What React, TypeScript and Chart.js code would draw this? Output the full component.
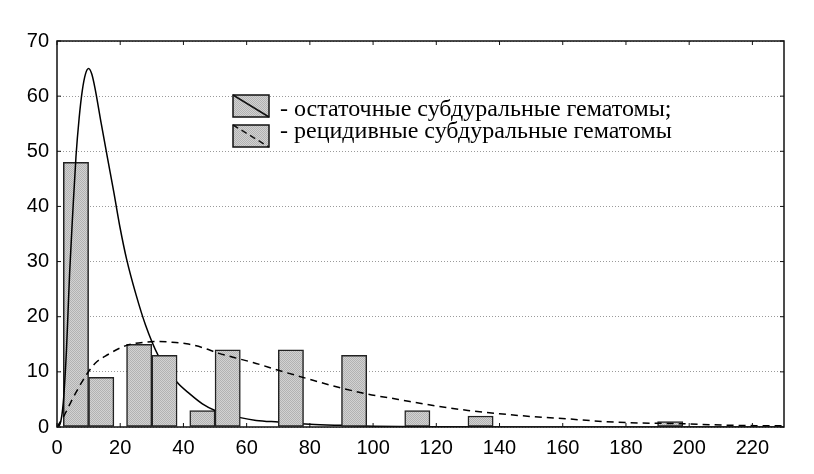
import React, { useEffect, useRef } from 'react';
import { Chart, ChartConfiguration, Plugin, registerables } from 'chart.js';

Chart.register(...registerables);

// histogram bins (width 20), two bars per bin
const binStarts = [0, 20, 40, 60, 80, 100, 120, 140, 160, 180, 200];
const residualCounts = [48, 15, 3, 0, 0, 0, 0, 0, 0, 0, 0];
const recurrentCounts = [9, 13, 14, 14, 13, 3, 2, 0, 0, 1, 0];

// fitted density curves
const residualFitX = [0, 1, 2, 3, 3.5, 4, 5, 6, 7, 8, 9, 10, 11, 12, 14, 16, 18, 20, 22, 25, 28, 32, 38, 42, 46, 50, 58, 63, 70, 80, 90, 100, 120, 150, 230];
const residualFitY = [0, 0.6, 4.5, 14, 21, 28, 39, 49, 56, 61, 64, 65, 64, 61.5, 55, 48.7, 42.5, 36, 30.5, 24, 18.5, 13, 8.1, 6, 4.2, 3, 1.7, 1.2, 0.9, 0.5, 0.3, 0.15, 0.05, 0, 0];

const recurrentFitX = [0, 2, 5, 9, 12, 16, 22, 28, 32, 36, 41, 46, 51, 56, 62, 70, 79, 89, 98, 108, 119, 130, 140, 150, 161, 170, 180, 197, 214, 230];
const recurrentFitY = [0, 1.8, 5.2, 9.2, 11.5, 13.1, 14.8, 15.4, 15.5, 15.4, 15.1, 14.4, 13.4, 12.6, 11.7, 10.3, 8.8, 7.2, 6.0, 5.0, 3.9, 3.0, 2.4, 1.9, 1.5, 1.1, 0.8, 0.6, 0.3, 0.2];

const legendLabels = [
  '- остаточные субдуральные гематомы;',
  '- рецидивные субдуральные гематомы',
];

const tickFont = { family: '"Liberation Sans", Arial, sans-serif', size: 20 };

const makePattern = (): CanvasPattern | string => {
  const pc = document.createElement('canvas');
  pc.width = 2;
  pc.height = 2;
  const pctx = pc.getContext('2d');
  if (!pctx) return '#c4c4c4';
  pctx.fillStyle = '#d2d2d2';
  pctx.fillRect(0, 0, 2, 2);
  pctx.fillStyle = '#b2b2b2';
  pctx.fillRect(0, 0, 1, 1);
  pctx.fillRect(1, 1, 1, 1);
  return pctx.createPattern(pc, 'repeat') || '#c4c4c4';
};

// frame round the plot with inward tick marks on all four sides
const framePlugin: Plugin<'bar'> = {
  id: 'frame',
  afterDatasetsDraw(chart) {
    const { ctx, chartArea: a, scales } = chart;
    const len = 4;
    const line = (x1: number, y1: number, x2: number, y2: number) => {
      ctx.beginPath();
      ctx.moveTo(x1, y1);
      ctx.lineTo(x2, y2);
      ctx.stroke();
    };
    ctx.save();
    ctx.strokeStyle = '#111';
    ctx.lineWidth = 1;
    scales.x.ticks.forEach((t) => {
      const px = scales.x.getPixelForValue(t.value);
      line(px, a.bottom, px, a.bottom - len);
      line(px, a.top, px, a.top + len);
    });
    scales.y.ticks.forEach((t) => {
      const py = scales.y.getPixelForValue(t.value);
      line(a.left, py, a.left + len, py);
      line(a.right, py, a.right - len, py);
    });
    ctx.lineWidth = 1.5;
    ctx.strokeRect(a.left, a.top, a.right - a.left, a.bottom - a.top);
    ctx.restore();
  },
};

const makeLegendPlugin = (fill: CanvasPattern | string): Plugin<'bar'> => ({
  id: 'boxLegend',
  afterDraw(chart) {
    const { ctx, chartArea: a } = chart;
    const bx = a.left + 176;
    const w = 36;
    const h = 22;
    const rows = [
      { y: a.top + 54, dash: [] as number[], base: a.top + 75 },
      { y: a.top + 84, dash: [6, 4], base: a.top + 97 },
    ];
    ctx.save();
    rows.forEach((r, i) => {
      ctx.fillStyle = fill;
      ctx.fillRect(bx, r.y, w, h);
      ctx.setLineDash([]);
      ctx.strokeStyle = '#111';
      ctx.lineWidth = 1.5;
      ctx.strokeRect(bx, r.y, w, h);
      ctx.setLineDash(r.dash);
      ctx.beginPath();
      ctx.moveTo(bx, r.y);
      ctx.lineTo(bx + w, r.y + h);
      ctx.stroke();
      ctx.setLineDash([]);
      ctx.fillStyle = '#000';
      ctx.font = '24px "Liberation Serif", "Times New Roman", serif';
      ctx.textBaseline = 'alphabetic';
      ctx.textAlign = 'left';
      ctx.fillText(legendLabels[i], bx + 47, r.base);
    });
    ctx.restore();
  },
});

const toBars = (counts: number[], offset: number) =>
  counts
    .map((c, i) => ({ x: binStarts[i] + offset, y: c }))
    .filter((p) => p.y > 0);

const toPoints = (xs: number[], ys: number[]) => xs.map((x, i) => ({ x, y: ys[i] }));

export default function App() {
  const canvasRef = useRef<HTMLCanvasElement | null>(null);
  const chartRef = useRef<Chart | null>(null);

  useEffect(() => {
    document.body.style.margin = '0';
    if (!canvasRef.current) return;
    const fill = makePattern();

    const config: ChartConfiguration<'bar'> = {
      type: 'bar',
      data: {
        datasets: [
          {
            data: toBars(residualCounts, 6) as any,
            backgroundColor: fill as any,
            borderColor: '#222',
            borderWidth: 1.5,
            borderSkipped: false,
            grouped: false,
            barPercentage: 1,
            categoryPercentage: 1,
            order: 4,
          },
          {
            type: 'line' as any,
            data: toPoints(residualFitX, residualFitY) as any,
            borderColor: '#000',
            borderWidth: 1.5,
            pointRadius: 0,
            cubicInterpolationMode: 'monotone',
            fill: false,
            order: 3,
          } as any,
          {
            data: toBars(recurrentCounts, 14) as any,
            backgroundColor: fill as any,
            borderColor: '#222',
            borderWidth: 1.5,
            borderSkipped: false,
            grouped: false,
            barPercentage: 1,
            categoryPercentage: 1,
            order: 2,
          },
          {
            type: 'line' as any,
            data: toPoints(recurrentFitX, recurrentFitY) as any,
            borderColor: '#000',
            borderWidth: 1.5,
            borderDash: [7, 5],
            pointRadius: 0,
            cubicInterpolationMode: 'monotone',
            fill: false,
            order: 1,
          } as any,
        ],
      },
      options: {
        animation: false,
        responsive: true,
        maintainAspectRatio: false,
        layout: { padding: { top: 41, right: 30, left: 0, bottom: 0 } },
        plugins: {
          legend: { display: false },
          tooltip: { enabled: false },
        },
        scales: {
          x: {
            type: 'linear',
            offset: false,
            min: 0,
            max: 230,
            afterFit: (scale: any) => {
              scale.height = 47;
            },
            ticks: {
              stepSize: 20,
              includeBounds: false,
              color: '#000',
              font: tickFont,
              padding: 9,
              maxRotation: 0,
            },
            grid: { display: false, drawTicks: false, offset: false },
            border: { display: false },
          },
          y: {
            min: 0,
            max: 70,
            afterFit: (scale: any) => {
              scale.width = 57;
            },
            ticks: {
              stepSize: 10,
              color: '#000',
              font: tickFont,
              padding: 8,
            },
            grid: { color: '#9a9a9a', lineWidth: 1, drawTicks: false },
            border: { display: false, dash: [1, 2] },
          },
        },
      },
      plugins: [framePlugin, makeLegendPlugin(fill)],
    };

    chartRef.current = new Chart(canvasRef.current, config);
    return () => {
      chartRef.current?.destroy();
    };
  }, []);

  return (
    <div style={{ width: 814, height: 474, position: 'relative', background: '#fff' }}>
      <canvas ref={canvasRef} />
    </div>
  );
}
